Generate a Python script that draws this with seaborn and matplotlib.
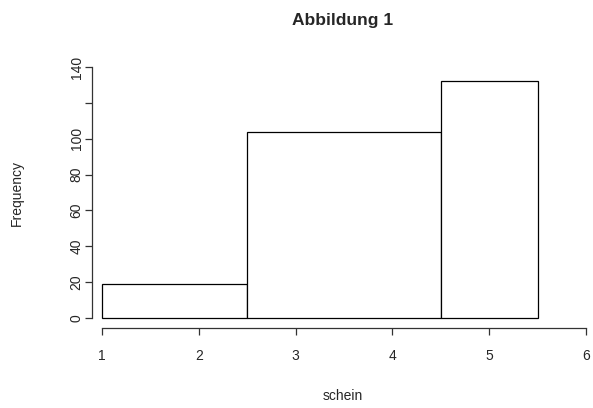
import matplotlib
matplotlib.use("Agg")
import matplotlib.pyplot as plt
import seaborn as sns
import numpy as np

# Histogram of "schein": bin edges and frequency per bin
bin_edges = [1.0, 2.5, 4.5, 5.5]
frequencies = [19, 104, 132]
x_ticks = [1, 2, 3, 4, 5, 6]
y_ticks = [0, 20, 40, 60, 80, 100, 120, 140]
y_tick_labels = ["0", "20", "40", "60", "80", "100", "", "140"]

sns.set_style("white")
plt.rcParams["font.family"] = ["Liberation Sans", "DejaVu Sans"]

fig = plt.figure(figsize=(5.93, 4.08), dpi=100)
ax = fig.add_axes([92 / 593, 1 - 328 / 408, 1 - 92 / 593, (328 - 57) / 408])

mids = [(a + b) / 2 for a, b in zip(bin_edges[:-1], bin_edges[1:])]
sns.histplot(x=mids, weights=frequencies, bins=bin_edges, stat="count",
             color="white", edgecolor="black", linewidth=0.9, alpha=1.0, ax=ax)

ax.set_xlim(1 - 10 / 97, 1 + (594 - 102) / 97)
ax.set_ylim(-5.6, 145.6)

for side in ("top", "right"):
    ax.spines[side].set_visible(False)
for side in ("left", "bottom"):
    ax.spines[side].set_color("#333333")
    ax.spines[side].set_linewidth(0.9)
ax.spines["bottom"].set_bounds(1, 6)
ax.spines["left"].set_bounds(0, 140)

ax.set_xticks(x_ticks)
ax.set_xticklabels([str(v) for v in x_ticks])
ax.set_yticks(y_ticks)
ax.set_yticklabels(y_tick_labels, rotation=90, va="center")
ax.tick_params(axis="both", length=5, width=0.9, color="#333333",
               labelsize=10, direction="out", bottom=True, left=True)
ax.tick_params(axis="x", pad=10)
ax.tick_params(axis="y", pad=1)

ax.set_xlabel("schein", fontsize=10, labelpad=19)
ax.set_ylabel("Frequency", fontsize=10, labelpad=33)
ax.set_title("Abbildung 1", fontsize=12.5, fontweight="bold", pad=23)

fig.savefig("out.png", dpi=100)
